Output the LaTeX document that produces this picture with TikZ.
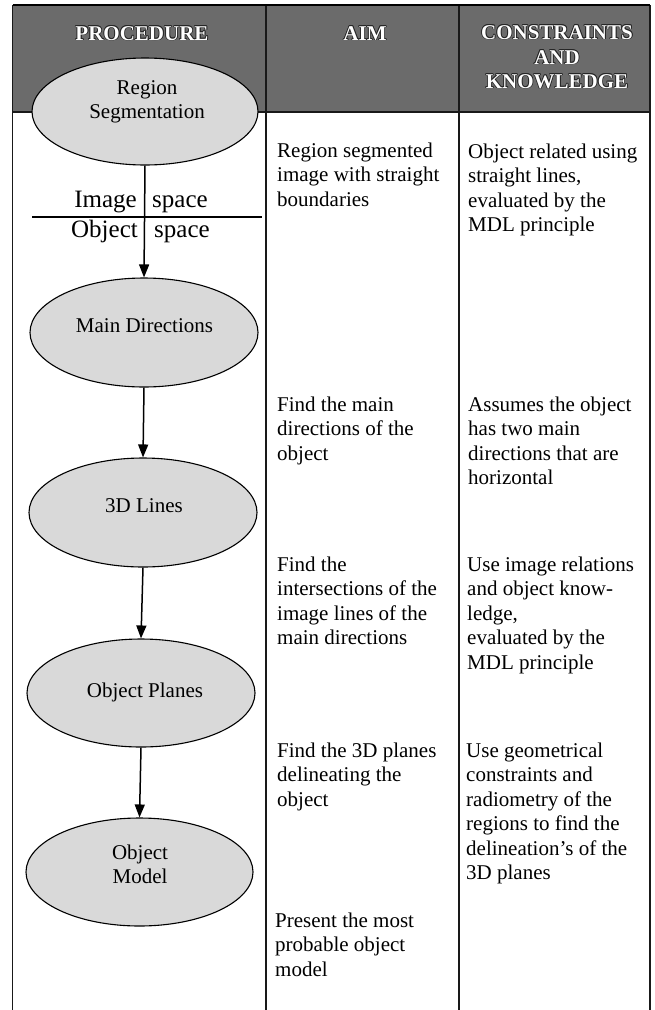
\documentclass[tikz,border=0pt]{standalone}
\usepackage{fontspec}
\setmainfont{Liberation Serif}
\usetikzlibrary{shapes.geometric,arrows.meta}
\newcommand\hdrtext[3]{%
  \foreach \dx/\dy in {-0.8/0,0.8/0,0/-0.8,0/0.8,-0.6/-0.6,0.6/0.6,-0.6/0.6,0.6/-0.6}{%
    \node[hdr, text=black!85] at ([shift={(\dx,\dy)}]#2) {#3};}%
  \node[hdr, text=white] (#1) at (#2) {#3};}
\begin{document}
\begin{tikzpicture}[x=1pt,y=-1pt,
  tline/.style={line width=1.4pt, black!90},
  proc/.style={ellipse, draw, line width=1.1pt, fill=black!15, inner sep=0pt},
  ptext/.style={anchor=base, inner sep=0pt, align=center, font=\fontsize{21}{24}\selectfont},
  txt/.style={anchor=base west, align=left, inner sep=0pt, font=\fontsize{21}{24.5}\selectfont},
  flow/.style={line width=1.5pt, -{Triangle[length=13pt,width=10pt]}},
  hdr/.style={font=\fontsize{21}{24}\selectfont\bfseries, anchor=base, inner sep=0pt},
  big/.style={font=\fontsize{25}{30}\selectfont, inner sep=0pt}
]
\useasboundingbox (0,0) rectangle (655,1010);
% header band
\fill[black!58] (12.5,5) rectangle (650,112);
% table lines
\coordinate (l0t) at (12.5,5);  \coordinate (l0b) at (12.5,1010);
\coordinate (l1t) at (266,5);   \coordinate (l1b) at (266,1010);
\coordinate (l2t) at (459,5);   \coordinate (l2b) at (459,1010);
\coordinate (l3t) at (650,5);   \coordinate (l3b) at (650,1010);
\coordinate (hbl) at (12.5,112); \coordinate (hbr) at (650,112);
\draw[tline] (l0t) -- (l0b);
\draw[tline] (l1t) -- (l1b);
\draw[tline] (l2t) -- (l2b);
\draw[tline] (l3t) -- (l3b);
\draw[line width=1.8pt] (l0t) -- (l3t);
\draw[tline] (hbl) -- (hbr);
% header texts
\hdrtext{hproc}{142,40}{PROCEDURE}
\hdrtext{haim}{365,40}{AIM}
\hdrtext{hcon1}{557,39}{CONSTRAINTS}
\hdrtext{hcon2}{557,64}{AND}
\hdrtext{hcon3}{557,88}{KNOWLEDGE}
% procedure ellipses
\node[proc, minimum width=226pt, minimum height=107pt] (e1) at (145,111.5) {};
\node[proc, minimum width=228pt, minimum height=109pt] (e2) at (144,332.5) {};
\node[proc, minimum width=228pt, minimum height=109pt] (e3) at (143,512.5) {};
\node[proc, minimum width=228pt, minimum height=108pt] (e4) at (141,693) {};
\node[proc, minimum width=227pt, minimum height=108pt] (e5) at (139.5,872) {};
% (anchor=base of a multi-line node is the baseline of its last line)
\node[ptext] (t1) at (147,118) {Region\\Segmentation};
\node[ptext] (t2) at (144.5,332) {Main Directions};
\node[ptext] (t3) at (144,512) {3D Lines};
\node[ptext] (t4) at (145,697) {Object Planes};
\node[ptext] (t5) at (140,883) {Object\\Model};
% arrows
\draw[flow] (e1.south) -- (e2.north);
\draw[flow] (e2.south) -- (e3.north);
\draw[flow] (e3.south) -- (e4.north);
\draw[flow] (e4.south) -- (e5.north);
% image / object space
\coordinate (sl) at (32,217); \coordinate (sr) at (262,217);
\draw[line width=2pt] (sl) -- (sr);
\node[big, anchor=base east] (im) at (137,207) {Image};
\node[big, anchor=base west] (ims) at (152,207) {space};
\node[big, anchor=base east] (ob) at (138,237) {Object};
\node[big, anchor=base west] (obs) at (154,237) {space};
% aim column
\node[txt] (a1) at (277,206) {Region segmented\\image with straight\\boundaries};
\node[txt] (a2) at (277,460) {Find the main\\directions of the\\object};
\node[txt] (a3) at (277,644.5) {Find the\\intersections of the\\image lines of the\\main directions};
\node[txt] (a4) at (277,806) {Find the 3D planes\\delineating the\\object};
\node[txt] (a5) at (275,976) {Present the most\\probable object\\model};
% constraints column
\node[txt] (c1) at (468,231.5) {Object related using\\straight lines,\\evaluated by the\\MDL principle};
\node[txt] (c2) at (468,484.5) {Assumes the object\\has two main\\directions that are\\horizontal};
\node[txt] (c3) at (467,669) {Use image relations\\and object know-\\ledge,\\evaluated by the\\MDL principle};
\node[txt] (c4) at (466,879.5) {Use geometrical\\constraints and\\radiometry of the\\regions to find the\\delineation's of the\\3D planes};
\end{tikzpicture}
\end{document}
